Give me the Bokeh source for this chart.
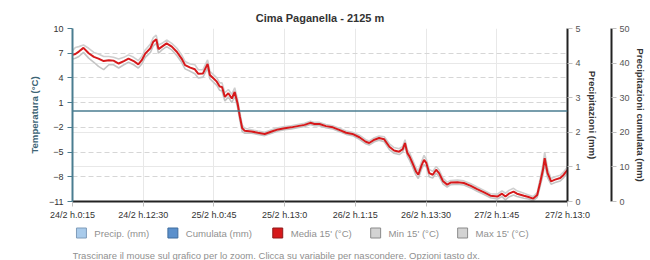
from bokeh.plotting import figure
from bokeh.layouts import column
from bokeh.models import (Range1d, LinearAxis, FixedTicker, Span, Grid, Title)
from bokeh.core.properties import value
from bokeh.embed import file_html
from bokeh.resources import INLINE

# ---- data (hours since 24/2 h.0:15, temperatures in °C) ----
hours = [0.0, 0.5, 1.1, 1.9, 2.8, 3.7, 4.5, 5.4, 6.3, 7.1, 8.0, 8.9, 9.7, 10.6, 11.4,
         12.0, 12.6, 13.5, 14.0, 14.5, 14.9, 15.5, 16.3, 17.2, 18.1, 18.9, 19.5, 20.4,
         21.2, 21.8, 22.6, 23.4, 23.8, 24.4, 25.0, 25.5, 25.9, 26.4, 27.0, 27.6, 28.1,
         28.6, 29.0, 29.4, 29.8, 31.0, 32.1, 33.3, 34.5, 35.6, 36.75, 37.9, 39.0, 40.2,
         41.2, 41.9, 42.8, 43.9, 45.1, 46.2, 47.4, 48.5, 49.7, 50.8, 51.4, 52.3, 53.1,
         54.0, 54.9, 55.7, 56.6, 57.2, 57.6, 58.0, 58.4, 58.9, 59.5, 59.9, 60.5, 60.9,
         61.3, 61.8, 62.4, 63.0, 63.5, 64.2, 64.9, 65.5, 66.7, 67.8, 69.0, 70.1, 71.3,
         72.4, 73.6, 74.4, 75.0, 75.6, 76.4, 77.0, 78.2, 79.0, 79.8, 80.5, 81.0, 81.5,
         81.8, 82.3, 82.9, 83.6, 84.5, 85.1, 85.75]

media = [6.8, 6.9, 7.2, 7.65, 7.0, 6.55, 6.35, 6.05, 6.15, 6.1, 5.75, 6.05, 6.35, 6.05, 5.65,
         6.15, 6.95, 7.6, 8.4, 8.7, 7.5, 7.8, 8.2, 7.8, 7.15, 6.35, 5.55, 5.25,
         5.05, 4.5, 4.55, 5.7, 4.35, 3.95, 3.55, 2.95, 2.9, 1.7, 2.15, 1.5, 2.3,
         0.9, -0.7, -2.1, -2.4, -2.5, -2.65, -2.8, -2.5, -2.25, -2.1, -2.0, -1.85, -1.7,
         -1.45, -1.6, -1.6, -1.85, -2.0, -2.3, -2.65, -2.8, -3.2, -3.75, -3.9, -3.5, -3.3,
         -3.45, -4.35, -4.8, -4.95, -4.65, -3.9, -5.1, -5.55, -6.35, -7.35, -7.75, -6.55, -5.95,
         -6.35, -7.55, -7.75, -7.15, -7.55, -8.55, -8.95, -8.7, -8.65, -8.75, -9.1, -9.5, -9.9,
         -10.3, -10.4, -10.05, -10.4, -10.05, -9.8, -10.05, -10.3, -10.45, -10.65, -10.2, -8.75, -7.15,
         -5.75, -7.55, -8.55, -8.35, -8.15, -7.75, -7.15]

tmax = [7.3, 7.7, 7.8, 8.0, 7.6, 7.1, 6.9, 6.6, 6.6, 6.5, 6.3, 6.5, 6.8, 6.5, 6.1,
        6.6, 7.4, 8.1, 8.9, 9.2, 8.0, 8.2, 8.6, 8.2, 7.6, 6.8, 6.0, 5.7,
        5.6, 5.0, 5.0, 6.2, 4.8, 4.4, 4.0, 3.4, 3.4, 2.2, 2.6, 2.0, 2.8,
        1.4, -0.2, -1.7, -2.1, -2.3, -2.45, -2.6, -2.3, -2.05, -1.9, -1.8, -1.65, -1.5,
        -1.25, -1.4, -1.4, -1.65, -1.8, -2.1, -2.45, -2.6, -2.95, -3.5, -3.65, -3.25, -3.05,
        -3.15, -4.0, -4.45, -4.6, -4.3, -3.5, -4.7, -5.1, -5.9, -6.9, -7.3, -6.1, -5.4,
        -5.9, -7.1, -7.35, -6.75, -7.15, -8.2, -8.65, -8.45, -8.4, -8.5, -8.85, -9.25, -9.65,
        -10.05, -10.1, -9.7, -10.0, -9.65, -9.4, -9.7, -10.0, -10.2, -10.4, -9.9, -8.3, -6.5,
        -5.0, -7.0, -8.2, -8.0, -7.8, -7.4, -6.8]

tmin = [6.3, 6.4, 6.6, 7.1, 6.4, 5.9, 5.4, 5.0, 5.6, 5.6, 5.2, 5.6, 5.9, 5.6, 5.2,
        5.7, 6.5, 7.1, 7.9, 8.2, 7.0, 7.4, 7.8, 7.4, 6.7, 5.9, 5.1, 4.8,
        4.5, 4.0, 4.1, 5.2, 3.9, 3.5, 3.1, 2.5, 2.4, 1.2, 1.7, 1.0, 1.8,
        0.4, -1.2, -2.5, -2.7, -2.7, -2.85, -3.0, -2.7, -2.45, -2.3, -2.2, -2.05, -1.9,
        -1.65, -1.8, -1.8, -2.05, -2.2, -2.5, -2.85, -3.0, -3.45, -4.0, -4.15, -3.75, -3.55,
        -3.75, -4.7, -5.15, -5.3, -5.0, -4.3, -5.5, -6.0, -6.8, -7.8, -8.2, -7.0, -6.5,
        -6.8, -8.0, -8.15, -7.55, -7.95, -8.9, -9.25, -8.95, -8.9, -9.0, -9.35, -9.75, -10.15,
        -10.55, -10.7, -10.4, -10.8, -10.45, -10.2, -10.4, -10.6, -10.7, -10.9, -10.5, -9.2, -7.8,
        -6.4, -8.1, -8.9, -8.7, -8.5, -8.1, -7.5]

x_ticks = [0, 12.25, 24.5, 36.75, 49, 61.25, 73.5, 85.75]
x_labels = ["24/2 h.0:15", "24/2 h.12:30", "25/2 h.0:45", "25/2 h.13:0",
            "26/2 h.1:15", "26/2 h.13:30", "27/2 h.1:45", "27/2 h.13:0"]
temp_ticks = [10, 7, 4, 1, -2, -5, -8, -11]
precip_ticks = [0, 1, 2, 3, 4, 5]
cum_ticks = [0, 10, 20, 30, 40, 50]

legend_names = ["Precip. (mm)", "Cumulata (mm)", "Media 15' (°C)", "Min 15' (°C)", "Max 15' (°C)"]
legend_fill = ["#a9cbeb", "#5b90cc", "#d6191b", "#d3d3d3", "#d3d3d3"]
legend_edge = ["#7f9cba", "#3f6c9e", "#8e1a1a", "#8a8a8a", "#8a8a8a"]
footer_text = "Trascinare il mouse sul grafico per lo zoom. Clicca su variabile per nascondere. Opzioni tasto dx."

FONT = "Liberation Sans"
TICK_FS = "9px"
TITLE_FS = "9.6px"
BL, BR = 72, 80   # borders left / right (frame spans 72..570)
X0, X1 = 0, 85.75

p = figure(width=650, height=222, output_backend="svg", toolbar_location=None,
           x_range=Range1d(X0, X1), y_range=Range1d(-11, 10),
           min_border_left=BL, min_border_right=BR, min_border_top=28, min_border_bottom=21)
p.outline_line_color = None

p.title.text = "Cima Paganella - 2125 m"
p.title.align = "center"
p.title.text_font = FONT
p.title.text_font_size = "11px"
p.title.text_font_style = "bold"
p.title.text_color = "#333333"

p.extra_y_ranges = {"precip": Range1d(0, 5), "cum": Range1d(0, 50)}

# grids
p.xgrid.ticker = FixedTicker(ticks=x_ticks)
p.xgrid.grid_line_color = "#e8e8e8"
p.ygrid.ticker = FixedTicker(ticks=temp_ticks)
p.ygrid.grid_line_color = "#d6d6d6"
p.ygrid.grid_line_dash = "5 3"
pg = Grid(dimension=1, ticker=FixedTicker(ticks=[1, 2, 3, 4]), y_range_name="precip",
          grid_line_color="#e8e8e8")
p.add_layout(pg)

# x axis
xa = p.xaxis[0]
xa.ticker = FixedTicker(ticks=x_ticks)
xa.major_label_overrides = {t: l for t, l in zip(x_ticks, x_labels)}
xa.axis_line_color = "#222222"
xa.axis_line_width = 2
xa.major_tick_line_color = "#c0c0c0"
xa.major_tick_out = 5
xa.major_tick_in = 0
xa.minor_tick_line_color = None
xa.major_label_text_font = FONT
xa.major_label_text_font_size = TICK_FS
xa.major_label_text_color = "#333333"
xa.major_label_standoff = 3

# left axis
ya = p.yaxis[0]
ya.ticker = FixedTicker(ticks=temp_ticks)
ya.axis_label = "Temperatura (°C)"
ya.axis_label_text_font = FONT
ya.axis_label_text_font_size = TITLE_FS
ya.axis_label_text_font_style = "bold"
ya.axis_label_text_color = "#3d6475"
ya.axis_label_standoff = 6
ya.axis_line_color = "#4a7d90"
ya.axis_line_width = 2
ya.major_tick_line_color = "#4a7d90"
ya.major_tick_out = 5
ya.major_tick_in = 0
ya.minor_tick_line_color = None
ya.major_label_text_font = FONT
ya.major_label_text_font_size = TICK_FS
ya.major_label_text_color = "#333333"
ya.major_label_standoff = 4

def right_axis(rng, ticks, label, title_standoff):
    ax = LinearAxis(y_range_name=rng, ticker=FixedTicker(ticks=ticks), axis_label=label)
    ax.axis_line_color = "#222222"
    ax.axis_line_width = 2
    ax.major_tick_line_color = "#c0c0c0"
    ax.major_tick_out = 5
    ax.major_tick_in = 0
    ax.minor_tick_line_color = None
    ax.major_label_text_font = FONT
    ax.major_label_text_font_size = TICK_FS
    ax.major_label_text_color = "#555555"
    ax.major_label_standoff = 3
    ax.axis_label_text_font = FONT
    ax.axis_label_text_font_size = TITLE_FS
    ax.axis_label_text_font_style = "bold"
    ax.axis_label_text_color = "#333333"
    ax.axis_label_standoff = title_standoff
    return ax

p.add_layout(right_axis("precip", precip_ticks, "Precipitazioni (mm)", 3), "right")
p.add_layout(Title(text=" ", text_font_size="7.5px", standoff=0, offset=0), "right")
p.add_layout(right_axis("cum", cum_ticks, None, 0), "right")
# title of the cumulative axis as a side-panel title (outside the frame)
p.add_layout(Title(text="Precipitazioni cumulata (mm)", align="center", standoff=5,
                   text_font=FONT, text_font_size=TITLE_FS, text_font_style="bold",
                   text_color="#333333"), "right")

# zero line
p.add_layout(Span(location=0, dimension="width", line_color="#4a7d90", line_width=1.5))

# series
p.line(hours, tmax, line_color="#cfcfcf", line_width=1.6)
p.line(hours, tmin, line_color="#c4c4c4", line_width=1.6)
p.line(hours, media, line_color="#d6191b", line_width=2.0)

# ---- legend + footer strip (frame aligned with the chart, 1 data unit = 1 px) ----
L = figure(width=650, height=38, output_backend="svg", toolbar_location=None,
           x_range=Range1d(BL, 650 - BR), y_range=Range1d(0, 38),
           x_axis_type=None, y_axis_type=None,
           min_border_left=BL, min_border_right=BR, min_border_top=0, min_border_bottom=0)
L.outline_line_color = None
L.grid.visible = False
swatch_x = [81, 173, 278.5, 377, 464.5]
L.rect(x=swatch_x, y=[27.5] * 5, width=10, height=10, fill_color=legend_fill,
       line_color=legend_edge, line_width=1)
L.text(x=[sx + 13 for sx in swatch_x], y=[27.5] * 5, text=legend_names,
       text_font=value(FONT), text_font_size="9.6px", text_color="#909090",
       text_baseline="middle", text_align="left")
L.text(x=[72], y=[5], text=[footer_text], text_font=value(FONT), text_font_size="9.5px",
       text_color="#909090", text_baseline="middle", text_align="left")

layout = column(p, L, spacing=0)
open("out.html", "w").write(file_html(layout, INLINE))
